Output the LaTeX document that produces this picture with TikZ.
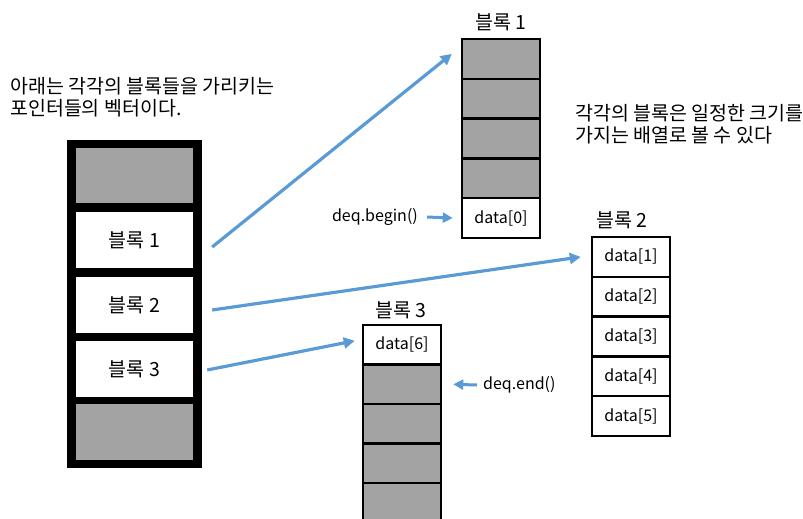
\documentclass[tikz,border=0pt]{standalone}
\usepackage{fontspec}
\setmainfont{Noto Sans CJK KR}
\usetikzlibrary{arrows.meta}
\definecolor{arrowblue}{RGB}{91,155,213}
\definecolor{cellgray}{RGB}{163,163,163}
\tikzset{
  kor/.style={font=\fontsize{19.5}{22}\selectfont, inner sep=0pt, anchor=west, align=left},
  lbl/.style={font=\fontsize{19.5}{22}\selectfont, inner sep=0pt},
  vcell/.style={draw=none, minimum width=117pt, inner sep=0pt, font=\fontsize{19.5}{22}\selectfont},
  bcell/.style={draw=black, line width=2.5pt, minimum width=78pt, minimum height=39.8pt, inner sep=0pt, font=\fontsize{16}{18}\selectfont},
  gcell/.style={fill=cellgray},
  wcell/.style={fill=white},
  ptr/.style={draw=arrowblue, line width=3.2pt, -{Triangle[length=11pt,width=11pt]}},
  sptr/.style={draw=arrowblue, line width=3pt, -{Triangle[length=10pt,width=10pt]}},
  itlbl/.style={font=\fontsize{16}{18}\selectfont, inner sep=0pt},
}
\begin{document}
\begin{tikzpicture}[x=1pt,y=-1pt]
\useasboundingbox (0,0) rectangle (803,519);
\clip (0,0) rectangle (803,519);

% texts
\node[kor] (t1) at (10,97.5) {아래는 각각의 블록들을 가리키는\\포인터들의 벡터이다.};
\node[kor] (t2) at (575,124) {각각의 블록은 일정한 크기를\\가지는 배열로 볼 수 있다};

% left vector
\node[fill=black, minimum width=135pt, minimum height=328pt, inner sep=0pt] (vec) at (134.5,304) {};
\node[vcell, gcell, minimum height=55pt] (v0) at (134.5,175.5) {};
\node[vcell, wcell, minimum height=56pt] (v1) at (134.5,240) {블록 1};
\node[vcell, wcell, minimum height=56pt] (v2) at (134.5,305) {블록 2};
\node[vcell, wcell, minimum height=56pt] (v3) at (134.5,369) {블록 3};
\node[vcell, gcell, minimum height=56pt] (v4) at (134.5,432) {};

% block 1
\node[lbl] (L1) at (501,22) {블록 1};
\node[bcell, gcell] (a1) at (501,58.9) {};
\node[bcell, gcell] (a2) at (501,98.7) {};
\node[bcell, gcell] (a3) at (501,138.5) {};
\node[bcell, gcell] (a4) at (501,178.3) {};
\node[bcell, wcell] (a5) at (501,218.1) {data[0]};

% block 2
\node[lbl] (L2) at (622,220) {블록 2};
\node[bcell, wcell] (b1) at (631,256.9) {data[1]};
\node[bcell, wcell] (b2) at (631,296.7) {data[2]};
\node[bcell, wcell] (b3) at (631,336.5) {data[3]};
\node[bcell, wcell] (b4) at (631,376.3) {data[4]};
\node[bcell, wcell] (b5) at (631,416.1) {data[5]};

% block 3
\node[lbl] (L3) at (401,310) {블록 3};
\node[bcell, wcell] (c1) at (402,344.8) {data[6]};
\node[bcell, gcell] (c2) at (402,384.3) {};
\node[bcell, gcell] (c3) at (402,423.8) {};
\node[bcell, gcell] (c4) at (402,463.3) {};
\node[bcell, gcell] (c5) at (402,502.8) {};

% iterator labels
\node[itlbl, anchor=east] (db) at (418,217) {deq.begin()};
\node[itlbl, anchor=west] (de) at (483,385) {deq.end()};

% pointers
\draw[ptr] ([shift={(19pt,-7pt)}]v1.east) -- ([shift={(-9pt,5pt)}]a1.west);
\draw[ptr] ([shift={(19pt,-5pt)}]v2.east) -- ([shift={(-10pt,0pt)}]b1.west);
\draw[ptr] ([shift={(14pt,-1pt)}]v3.east) -- ([shift={(-7pt,4pt)}]c1.west);
\draw[sptr] ([xshift=9pt]db.east) -- ([xshift=-8pt]a5.west);
\draw[sptr] ([xshift=-6pt]de.west) -- ([xshift=11pt]c2.east);
\end{tikzpicture}
\end{document}
